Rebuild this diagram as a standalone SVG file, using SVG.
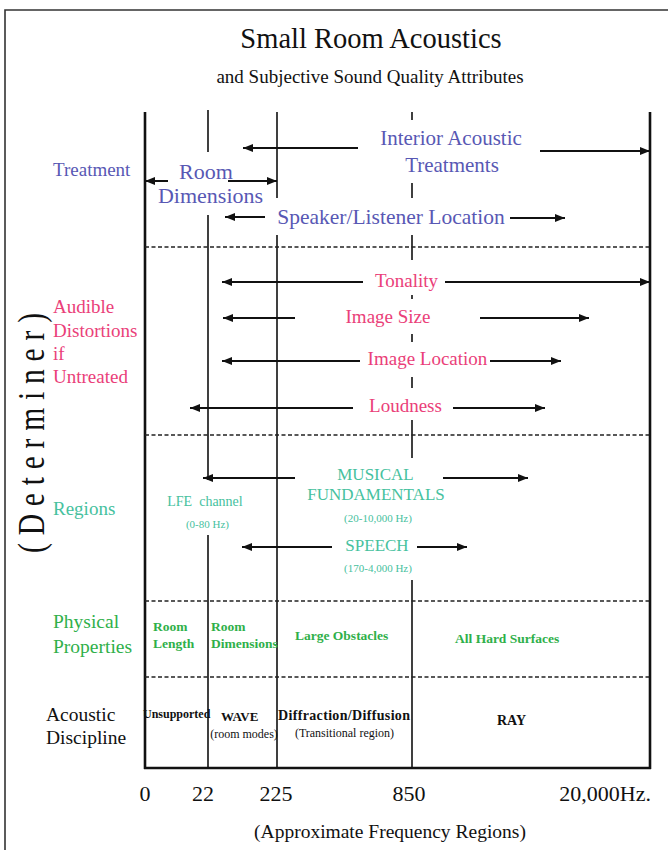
<svg xmlns="http://www.w3.org/2000/svg" width="668" height="850" viewBox="0 0 668 850">
<style>
text{font-family:"Liberation Serif","Times New Roman",serif;}
.blue{fill:#5858b4;}
.pink{fill:#ea4079;}
.teal{fill:#46c19e;}
.green{fill:#2fb04a;}
.blk{fill:#111;}
.b{font-weight:bold;}
.mid{text-anchor:middle;}
.vl{stroke:#111;stroke-width:1.6;fill:none;}
.vt{stroke:#111;stroke-width:2.6;fill:none;}
.dash{stroke:#222;stroke-width:1.3;stroke-dasharray:4 2.5;fill:none;}
.arr{stroke:#111;stroke-width:2;fill:none;marker-end:url(#ah);}
</style>
<defs>
<marker id="ah" markerUnits="userSpaceOnUse" markerWidth="12" markerHeight="10" refX="10" refY="4" orient="auto">
<path d="M0,0 L10,4 L0,8 Z" fill="#111"/>
</marker>
</defs>
<rect width="668" height="850" fill="#fff"/>
<g id="frame">
<path d="M5,850 V10 H668" stroke="#333" stroke-width="1.6" fill="none"/>
</g>
<g id="title">
<text x="371" y="48" class="mid blk" font-size="28.5">Small Room Acoustics</text>
<text x="370" y="83" class="mid blk" font-size="19">and Subjective Sound Quality Attributes</text>
</g>
<g id="grid">
<line class="vt" x1="145" y1="112" x2="145" y2="769"/>
<line class="vt" x1="650" y1="112" x2="650" y2="769"/>
<line class="vt" x1="144" y1="768" x2="651" y2="768"/>
<path class="vl" d="M208,110 V152 M208,215 V480 M208,535 V768"/>
<path class="vl" d="M277,112 V198 M277,235 V768"/>
<path class="vl" d="M412,112 V120 M412,183 V198 M412,235 V260 M412,295 V299 M412,334 V342 M412,377 V388 M412,420 V458 M412,580 V768"/>
<line class="dash" x1="145" y1="247" x2="650" y2="247"/>
<line class="dash" x1="145" y1="435" x2="650" y2="435"/>
<line class="dash" x1="145" y1="601" x2="650" y2="601"/>
<line class="dash" x1="145" y1="677" x2="650" y2="677"/>
</g>
<g id="connectors">
<line class="arr" x1="358" y1="148" x2="243" y2="148"/>
<line class="arr" x1="540" y1="151" x2="650" y2="151"/>
<line class="arr" x1="168" y1="181" x2="145" y2="181"/>
<line class="arr" x1="228" y1="181" x2="277" y2="181"/>
<line class="arr" x1="265" y1="217" x2="225" y2="217"/>
<line class="arr" x1="510" y1="218" x2="565" y2="218"/>
<line class="arr" x1="363" y1="282" x2="222" y2="282"/>
<line class="arr" x1="445" y1="282" x2="650" y2="282"/>
<line class="arr" x1="295" y1="318" x2="223" y2="318"/>
<line class="arr" x1="480" y1="318" x2="589" y2="318"/>
<line class="arr" x1="360" y1="361" x2="222" y2="361"/>
<line class="arr" x1="490" y1="361" x2="561" y2="361"/>
<line class="arr" x1="353" y1="408" x2="190" y2="408"/>
<line class="arr" x1="453" y1="408" x2="545" y2="408"/>
<line class="arr" x1="295" y1="478" x2="203" y2="478"/>
<line class="arr" x1="443" y1="478" x2="528" y2="478"/>
<line class="arr" x1="332" y1="547" x2="242" y2="547"/>
<line class="arr" x1="417" y1="547" x2="467" y2="547"/>
</g>
<g id="determiner">
<text transform="translate(44,433) rotate(-90) scale(0.8,1)" class="mid blk" font-size="37" textLength="300" lengthAdjust="spacing">(Determiner)</text>
</g>
<g id="treatment">
<text x="53" y="176" class="blue" font-size="19">Treatment</text>
<text x="206" y="179" class="mid blue" font-size="22">Room</text>
<text x="210.5" y="203" class="mid blue" font-size="22">Dimensions</text>
<text x="451" y="145" class="mid blue" font-size="21">Interior Acoustic</text>
<text x="452" y="172" class="mid blue" font-size="21">Treatments</text>
<text x="391" y="224" class="mid blue" font-size="21.5">Speaker/Listener Location</text>
</g>
<g id="distortions">
<text x="53" y="313" class="pink" font-size="19">Audible</text>
<text x="53" y="337" class="pink" font-size="19">Distortions</text>
<text x="53" y="360" class="pink" font-size="19">if</text>
<text x="53" y="383" class="pink" font-size="19">Untreated</text>
<text x="406.5" y="287" class="mid pink" font-size="19">Tonality</text>
<text x="388" y="323" class="mid pink" font-size="19">Image Size</text>
<text x="427.5" y="365" class="mid pink" font-size="19">Image Location</text>
<text x="405.5" y="412" class="mid pink" font-size="19">Loudness</text>
</g>
<g id="regions">
<text x="53" y="515" class="teal" font-size="19">Regions</text>
<text x="375.5" y="480" class="mid teal" font-size="17">MUSICAL</text>
<text x="376" y="500" class="mid teal" font-size="17">FUNDAMENTALS</text>
<text x="378" y="522" class="mid teal" font-size="11">(20-10,000 Hz)</text>
<text x="205" y="506" class="mid teal" font-size="14" xml:space="preserve">LFE  channel</text>
<text x="207.5" y="528" class="mid teal" font-size="11">(0-80 Hz)</text>
<text x="377" y="551" class="mid teal" font-size="17">SPEECH</text>
<text x="378" y="572" class="mid teal" font-size="11">(170-4,000 Hz)</text>
</g>
<g id="physical">
<text x="53" y="628" class="green" font-size="19.5">Physical</text>
<text x="53" y="653" class="green" font-size="19.5">Properties</text>
<text x="153" y="631" class="green b" font-size="13.5">Room</text>
<text x="153" y="648" class="green b" font-size="13.5">Length</text>
<text x="211" y="631" class="green b" font-size="13.5">Room</text>
<text x="211" y="648" class="green b" font-size="13.5">Dimensions</text>
<text x="295" y="640" class="green b" font-size="13.5">Large Obstacles</text>
<text x="455" y="643" class="green b" font-size="13.5">All Hard Surfaces</text>
</g>
<g id="discipline">
<text x="46" y="721" class="blk" font-size="19.5">Acoustic</text>
<text x="46" y="744" class="blk" font-size="19.5">Discipline</text>
<text x="143" y="718" class="blk b" font-size="12">Unsupported</text>
<text x="221" y="721" class="blk b" font-size="13">WAVE</text>
<text x="244" y="738" class="mid blk" font-size="12">(room modes)</text>
<text x="278" y="720" class="blk b" font-size="14" textLength="132">Diffraction/Diffusion</text>
<text x="344.5" y="737" class="mid blk" font-size="12">(Transitional region)</text>
<text x="511.5" y="725" class="mid blk b" font-size="14">RAY</text>
</g>
<g id="axis">
<text x="145" y="801" class="mid blk" font-size="22">0</text>
<text x="203" y="801" class="mid blk" font-size="22">22</text>
<text x="276" y="801" class="mid blk" font-size="22">225</text>
<text x="409" y="801" class="mid blk" font-size="22">850</text>
<text x="651" y="801" class="blk" font-size="22" text-anchor="end">20,000Hz.</text>
<text x="390" y="838" class="mid blk" font-size="19.5">(Approximate Frequency Regions)</text>
</g>
</svg>
